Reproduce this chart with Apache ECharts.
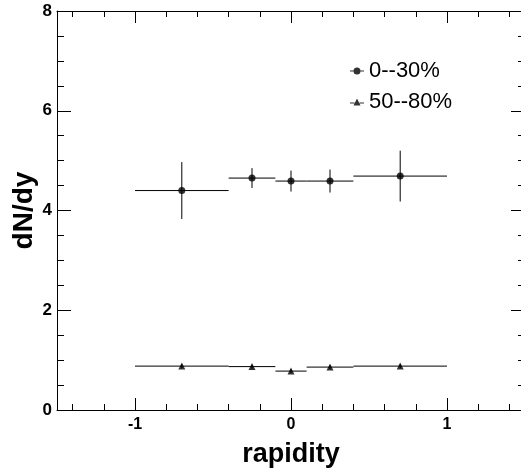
<!DOCTYPE html>
<html>
<head>
<meta charset="utf-8">
<script src="https://cdn.jsdelivr.net/npm/echarts@6/dist/echarts.min.js"></script>
<style>
  html, body { margin: 0; padding: 0; background: #fff; }
  #chart { width: 521px; height: 474px; }
</style>
</head>
<body>
<div id="chart"></div>
<script>
// ---- data ----
const seriesNames = ['0--30%', '50--80%'];
const rapidity = [-0.7, -0.25, 0, 0.25, 0.7];
const binLow = [-1.0, -0.4, -0.1, 0.1, 0.4];
const binHigh = [-0.4, -0.1, 0.1, 0.4, 1.0];
const central = [4.40, 4.65, 4.59, 4.59, 4.69];
const centralErr = [0.57, 0.20, 0.21, 0.23, 0.51];
const peripheral = [0.88, 0.87, 0.78, 0.86, 0.88];
const peripheralErr = [0.04, 0.04, 0.04, 0.04, 0.04];
const xRange = [-1.5, 1.5];
const yRange = [0, 8];
const yTickStep = 2;
const xTitle = 'rapidity';
const yTitle = 'dN/dy';

const FONT = 'Liberation Sans, Arial, Helvetica, sans-serif';

function rows(vals, errs) {
  return rapidity.map((x, i) => [x, binLow[i], binHigh[i], vals[i], errs[i]]);
}
function points(vals) {
  return rapidity.map((x, i) => [x, vals[i]]);
}

function errorBars(params, api) {
  const x = api.value(0), lo = api.value(1), hi = api.value(2), y = api.value(3), e = api.value(4);
  const a = api.coord([lo, y]);
  const b = api.coord([hi, y]);
  const c = api.coord([x, y - e]);
  const d = api.coord([x, y + e]);
  const st = { stroke: '#000', lineWidth: 1 };
  return {
    type: 'group',
    children: [
      { type: 'line', shape: { x1: a[0], y1: a[1], x2: b[0], y2: b[1] }, style: st },
      { type: 'line', shape: { x1: c[0], y1: c[1], x2: d[0], y2: d[1] }, style: st }
    ]
  };
}

function xAxisDef(pos, showLabels) {
  return {
    type: 'value', position: pos, min: xRange[0], max: xRange[1], splitNumber: 3,
    axisLine: { show: true, onZero: false, lineStyle: { color: '#000', width: 1 } },
    axisTick: { show: true, inside: true, length: 12, lineStyle: { color: '#000', width: 1 } },
    minorTick: { show: true, splitNumber: 5, length: 6, lineStyle: { color: '#000', width: 1 } },
    splitLine: { show: false },
    minorSplitLine: { show: false },
    axisLabel: {
      show: showLabels, showMinLabel: false, showMaxLabel: false, margin: 7,
      color: '#000', fontSize: 16, fontWeight: 'bold', fontFamily: FONT
    },
    name: showLabels ? xTitle : '', nameLocation: 'middle', nameGap: 31,
    nameTextStyle: { color: '#000', fontSize: 27, fontWeight: 'bold', fontFamily: FONT }
  };
}
function yAxisDef(pos, showLabels) {
  return {
    type: 'value', position: pos, min: yRange[0], max: yRange[1], interval: yTickStep,
    axisLine: { show: true, onZero: false, lineStyle: { color: '#000', width: 1 } },
    axisTick: { show: true, inside: true, length: 14, lineStyle: { color: '#000', width: 1 } },
    minorTick: { show: true, splitNumber: 4, length: 7, lineStyle: { color: '#000', width: 1 } },
    splitLine: { show: false },
    minorSplitLine: { show: false },
    axisLabel: {
      show: showLabels, margin: 5,
      color: '#000', fontSize: 17, fontWeight: 'bold', fontFamily: FONT
    },
    name: showLabels ? yTitle : '', nameLocation: 'middle', nameGap: 19, nameRotate: 90,
    nameMoveOverlap: false,
    nameTextStyle: { color: '#000', fontSize: 28, fontWeight: 'bold', fontFamily: FONT }
  };
}

const chart = echarts.init(document.getElementById('chart'), null, { renderer: 'canvas' });
chart.setOption({
  animation: false,
  backgroundColor: '#fff',
  grid: { left: 57, top: 11, width: 468, height: 399, containLabel: false, outerBoundsMode: 'none' },
  xAxis: [xAxisDef('bottom', true), xAxisDef('top', false)],
  yAxis: [yAxisDef('left', true), yAxisDef('right', false)],
  legend: {
    orient: 'vertical', left: 345, top: 55, itemWidth: 14, itemHeight: 7, itemGap: 9,
    textStyle: { color: '#000', fontSize: 22, fontFamily: FONT },
    data: [
      { name: seriesNames[0], icon: 'path://M0,3.1H3.6V3.9H0Z M10.4,3.1H14V3.9H10.4Z M3.5,3.5A3.5,3.5,0,1,1,10.5,3.5A3.5,3.5,0,1,1,3.5,3.5Z' },
      { name: seriesNames[1], icon: 'path://M0,4.1H4.5V4.9H0Z M9.5,4.1H14V4.9H9.5Z M7,0L10.5,7H3.5Z' }
    ]
  },
  series: [
    { type: 'custom', name: 'err0', renderItem: errorBars, data: rows(central, centralErr),
      encode: { x: 0, y: 3 }, xAxisIndex: 0, yAxisIndex: 0, silent: true, z: 2 },
    { type: 'custom', name: 'err1', renderItem: errorBars, data: rows(peripheral, peripheralErr),
      encode: { x: 0, y: 3 }, xAxisIndex: 0, yAxisIndex: 0, silent: true, z: 2 },
    { type: 'scatter', name: seriesNames[0], data: points(central), symbol: 'circle', symbolSize: 7,
      itemStyle: { color: '#000' }, xAxisIndex: 0, yAxisIndex: 0, z: 3 },
    { type: 'scatter', name: seriesNames[1], data: points(peripheral), symbol: 'triangle', symbolSize: 7,
      itemStyle: { color: '#000' }, xAxisIndex: 0, yAxisIndex: 0, z: 3 }
  ]
});
</script>
</body>
</html>
